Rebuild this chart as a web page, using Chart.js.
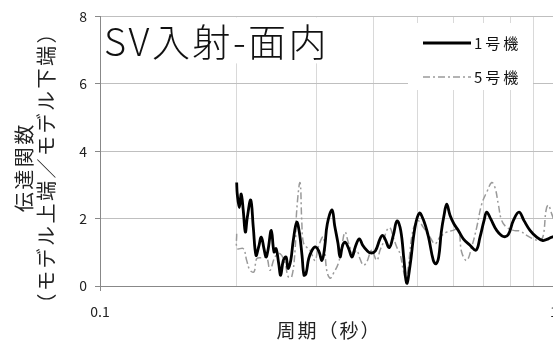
<!DOCTYPE html>
<html><head><meta charset="utf-8">
<script src="https://cdn.jsdelivr.net/npm/chart.js@4"></script>
<style>html,body{margin:0;padding:0;overflow:hidden;background:#fff}#wrap{width:600px;height:342px;position:relative}</style>
</head><body><div id="wrap"><canvas id="c" width="600" height="342"></canvas></div>
<script>
// ---- data ----
const chartTitle = 'SV入射-面内';
const seriesNames = ['1号機', '5号機'];
const xTitle = '周期（秒）';
const yTitle = ['伝達関数', '（モデル上端／モデル下端）'];
const xTickLabels = [0.1, 1];
const xGridValues = [0.1, 0.2, 0.3, 0.4, 0.5, 0.6, 0.7, 0.8, 0.9, 1];
const yTickValues = [0, 2, 4, 6, 8];

const periods1 = [0.2000,0.2006,0.2027,0.2047,0.2068,0.2090,0.2111,0.2148,0.2176,0.2206,0.2236,0.2266,0.2297,0.2321,0.2344,0.2384,0.2417,0.2442,0.2475,0.2500,0.2534,0.2569,0.2595,0.2631,0.2665,0.2712,0.2748,0.2786,0.2814,0.2843,0.2882,0.2931,0.2980,0.3032,0.3083,0.3126,0.3167,0.3244,0.3288,0.3344,0.3378,0.3424,0.3470,0.3530,0.3590,0.3650,0.3725,0.3790,0.3868,0.3947,0.4040,0.4138,0.4191,0.4244,0.4337,0.4426,0.4510,0.4596,0.4673,0.4738,0.4818,0.4941,0.5050,0.5154,0.5286,0.5422,0.5497,0.5572,0.5646,0.5724,0.5803,0.5901,0.6022,0.6155,0.6313,0.6531,0.6733,0.6871,0.7012,0.7109,0.7254,0.7478,0.7733,0.7932,0.8135,0.8374,0.8589,0.8854,0.9160,0.9443,0.9715,0.9965];
const values1  = [3.07,2.73,2.33,2.73,2.24,1.60,2.04,2.55,1.74,0.91,1.16,1.45,1.11,0.86,1.06,1.65,1.01,1.11,0.67,0.32,0.76,0.86,0.52,0.76,1.35,1.89,1.60,0.91,0.32,0.37,0.81,1.06,1.16,1.04,0.76,1.16,1.84,2.26,1.79,1.26,0.86,1.21,1.30,1.11,0.86,1.16,1.40,1.21,1.06,0.98,1.04,1.40,1.50,1.40,1.14,1.50,1.93,1.65,0.76,0.08,0.60,1.74,2.16,1.97,1.48,0.76,0.66,0.86,1.60,2.09,2.43,2.10,1.84,1.65,1.40,1.21,1.06,1.45,1.94,2.19,1.99,1.65,1.47,1.53,1.94,2.19,1.94,1.65,1.45,1.35,1.40,1.47];

const periods5 = [0.2000,0.2006,0.2068,0.2104,0.2140,0.2184,0.2214,0.2271,0.2329,0.2368,0.2429,0.2492,0.2556,0.2599,0.2644,0.2689,0.2712,0.2758,0.2782,0.2804,0.2853,0.2901,0.2976,0.3026,0.3104,0.3157,0.3211,0.3265,0.3349,0.3407,0.3465,0.3523,0.3614,0.3676,0.3738,0.3802,0.3868,0.3967,0.4069,0.4138,0.4208,0.4281,0.4353,0.4426,0.4503,0.4579,0.4657,0.4721,0.4776,0.4859,0.4941,0.5025,0.5154,0.5332,0.5469,0.5609,0.5803,0.6001,0.6155,0.6262,0.6423,0.6588,0.6757,0.6931,0.7130,0.7291,0.7414,0.7539,0.7670,0.7867,0.8135,0.8416,0.8707,0.9004,0.9315,0.9472,0.9603,0.9715,0.9884,0.9965];
const values5  = [1.55,1.11,1.11,0.76,0.47,0.42,0.81,0.84,0.84,0.47,0.86,0.96,0.67,0.27,0.27,1.06,2.24,3.07,1.94,1.30,1.15,1.06,0.76,1.16,1.45,0.47,0.23,0.37,0.67,1.16,1.60,1.30,0.96,1.06,0.81,0.62,0.71,1.06,0.76,1.06,1.30,1.65,1.73,1.45,1.16,0.96,0.47,0.20,0.57,1.45,1.84,1.94,1.74,1.45,1.25,1.45,1.60,1.65,1.70,1.00,0.76,1.16,1.74,2.43,2.82,3.07,2.92,2.43,1.94,1.74,1.65,1.63,1.50,1.40,1.35,1.50,2.24,2.40,2.14,2.00];

const FONT = '"Noto Sans CJK JP", "Noto Sans", sans-serif';

const overlay = {
  id: 'overlay',
  afterDraw(chart) {
    const ctx = chart.ctx;
    const area = chart.chartArea;
    ctx.save();
    // title box
    ctx.fillStyle = '#fff';
    ctx.fillRect(area.left + 1, area.top + 1, 235, 46);
    ctx.fillStyle = '#111';
    ctx.font = '300 38px ' + FONT;
    ctx.letterSpacing = '2.5px';
    ctx.textBaseline = 'alphabetic';
    ctx.textAlign = 'left';
    ctx.fillText(chartTitle, area.left + 4, area.top + 40);
    // legend box
    ctx.fillStyle = '#fff';
    ctx.fillRect(408, 23, 125, 67);
    chart.data.datasets.forEach((ds, i) => {
      const y = 43 + 34 * i;
      ctx.strokeStyle = ds.borderColor;
      ctx.lineWidth = ds.borderWidth;
      ctx.setLineDash(ds.borderDash || []);
      ctx.beginPath();
      ctx.moveTo(423, y);
      ctx.lineTo(471, y);
      ctx.stroke();
      ctx.setLineDash([]);
      ctx.fillStyle = '#111';
      ctx.font = '15px ' + FONT;
      ctx.letterSpacing = '3px';
      ctx.textBaseline = 'middle';
      ctx.fillText(ds.label, 474, y);
    });
    // y axis title (two lines, rotated)
    ctx.fillStyle = '#222';
    ctx.font = '20px ' + FONT;
    ctx.letterSpacing = '2.5px';
    ctx.textAlign = 'center';
    ctx.textBaseline = 'middle';
    const cy = (area.top + area.bottom) / 2 + 16;
    yTitle.forEach((line, i) => {
      ctx.save();
      ctx.translate(24 + 22 * i, cy);
      ctx.rotate(-Math.PI / 2);
      ctx.fillText(line, 0, 0);
      ctx.restore();
    });
    // x axis title
    ctx.font = '19px ' + FONT;
    ctx.letterSpacing = '2px';
    ctx.fillText(xTitle, (area.left + area.right) / 2 + 2, 331);
    ctx.restore();
  }
};

new Chart(document.getElementById('c'), {
  type: 'line',
  data: {
    datasets: [
      {
        label: seriesNames[0],
        data: periods1.map((p, i) => ({x: p, y: values1[i]})),
        borderColor: '#000',
        borderWidth: 2.8,
        pointRadius: 0,
        tension: 0.4,
        fill: false
      },
      {
        label: seriesNames[1],
        data: periods5.map((p, i) => ({x: p, y: values5[i]})),
        borderColor: '#9a9a9a',
        borderWidth: 1.5,
        borderDash: [7, 3, 2, 3],
        pointRadius: 0,
        tension: 0.4,
        fill: false
      }
    ]
  },
  options: {
    responsive: false,
    animation: false,
    devicePixelRatio: 1,
    layout: {padding: {top: 15, right: 46, left: 0, bottom: 0}},
    plugins: {legend: {display: false}, tooltip: {enabled: false}},
    scales: {
      x: {
        type: 'logarithmic',
        min: 0.1, max: 1,
        afterBuildTicks(s) { s.ticks = xGridValues.map(v => ({value: v})); },
        afterFit(s) { s.height = 56; },
        grid: {
          color: '#d9d9d9',
          tickLength: 5,
          tickColor: (c) => {
            const v = c.tick && c.tick.value;
            return xTickLabels.some(t => Math.abs(t - v) < 1e-9) ? '#888' : 'rgba(0,0,0,0)';
          }
        },
        border: {color: '#888', width: 1},
        ticks: {
          autoSkip: false, maxRotation: 0, padding: 12,
          color: '#222', font: {family: FONT, size: 14},
          callback: (v) => {
            const hit = xTickLabels.find(t => Math.abs(t - v) < 1e-9);
            return hit !== undefined ? String(hit) : '';
          }
        }
      },
      y: {
        min: 0, max: 8,
        afterFit(s) { s.width = 100; },
        afterBuildTicks(s) { s.ticks = yTickValues.map(v => ({value: v})); },
        grid: {color: '#bfbfbf', tickLength: 5, tickColor: '#888'},
        border: {color: '#888', width: 1},
        ticks: {padding: 8, color: '#222', font: {family: FONT, size: 14}}
      }
    }
  },
  plugins: [overlay]
});
</script>
</body></html>
